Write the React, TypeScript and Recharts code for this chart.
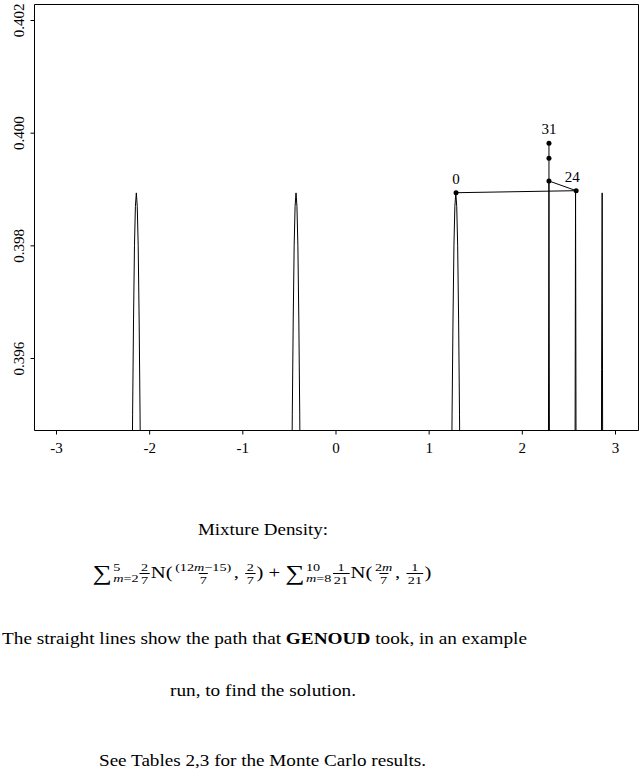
import React from 'react';
import { LineChart, Line, XAxis, YAxis, ReferenceArea, LabelList } from 'recharts';

// density curve (only the tops of the peaks are inside the window)
const curveX = [
  -3.0,
  -2.203, -2.193, -2.183, -2.173, -2.163, -2.153, -2.143, -2.133, -2.123, -2.113, -2.103, -2.093, -2.083,
  -1.29,
  -0.489, -0.479, -0.469, -0.459, -0.449, -0.439, -0.429, -0.419, -0.409, -0.399, -0.389, -0.379, -0.369,
  0.43,
  1.226, 1.236, 1.246, 1.256, 1.266, 1.276, 1.286, 1.296, 1.306, 1.316, 1.326, 1.336, 1.346,
  1.93,
  2.2757, 2.2857, 2.2957,
  2.43,
  2.5614, 2.5714, 2.5814,
  2.71,
  2.841, 2.851, 2.857, 2.867,
  3.0,
];
const curveY = [
  0.0,
  0.3902, 0.3928, 0.395, 0.3967, 0.398, 0.3987, 0.39894, 0.3987, 0.398, 0.3967, 0.395, 0.3928, 0.3902,
  0.0,
  0.3902, 0.3928, 0.395, 0.3967, 0.398, 0.3987, 0.39894, 0.3987, 0.398, 0.3967, 0.395, 0.3928, 0.3902,
  0.0,
  0.3902, 0.3928, 0.395, 0.3967, 0.398, 0.3987, 0.39894, 0.3987, 0.398, 0.3967, 0.395, 0.3928, 0.3902,
  0.0,
  0.3902, 0.39915, 0.3902,
  0.0,
  0.3902, 0.399, 0.3902,
  0.0,
  0.388, 0.3958, 0.39894, 0.3902,
  0.0,
];

// path GENOUD took
const pathX = [1.2886, 2.578, 2.286, 2.286, 2.286];
const pathY = [0.398943, 0.398979, 0.399151, 0.399554, 0.399821];
const pathLabels = ['0', '24', '', '', '31'];

const xTicks = [-3, -2, -1, 0, 1, 2, 3];
const yTicks = [0.396, 0.398, 0.4, 0.402];
const xDomain = [-3.236, 3.247];
const yDomain = [0.394722, 0.402284];

const curve = curveX.map((x, i) => ({ x, y: curveY[i] }));
const path = pathX.map((x, i) => ({ x, y: pathY[i], label: pathLabels[i] }));

const FONT = '"Liberation Serif", "DejaVu Serif", serif';

const YTick = (props: any) => {
  const { y, payload } = props;
  return (
    <text
      transform={`translate(19,${y}) rotate(-90)`}
      textAnchor="middle"
      dominantBaseline="central"
      fontFamily={FONT}
      fontSize={15}
      fill="#000"
    >
      {Number(payload.value).toFixed(3)}
    </text>
  );
};

const PointLabel = (props: any) => {
  const { x, y, value } = props;
  if (!value) return null;
  const dx = value === '24' ? -4 : 0;
  return (
    <text x={x + dx} y={y - 9} textAnchor="middle" fontFamily={FONT} fontSize={15} fill="#000">
      {value}
    </text>
  );
};

const Frac = ({ n, d }: { n: React.ReactNode; d: React.ReactNode }) => (
  <span style={{ display: 'inline-flex', flexDirection: 'column', alignItems: 'center', fontSize: 11, lineHeight: '10px', margin: '0 1px' }}>
    <span style={{ padding: '0 1px 1px' }}>{n}</span>
    <span style={{ borderTop: '1px solid #000', padding: '1px 1px 0' }}>{d}</span>
  </span>
);

const Sum = ({ top, bottom }: { top: string; bottom: React.ReactNode }) => (
  <span style={{ display: 'inline-flex', alignItems: 'center' }}>
    <span style={{ fontSize: 21, lineHeight: '21px' }}>∑</span>
    <span style={{ display: 'inline-flex', flexDirection: 'column', fontSize: 11, lineHeight: '11px', marginLeft: 1 }}>
      <span>{top}</span>
      <span>{bottom}</span>
    </span>
  </span>
);

const M = () => <i>m</i>;

export default function App() {
  return (
    <div style={{ position: 'absolute', left: 0, top: 0, width: 639, height: 770, background: '#fff', fontFamily: FONT }}>
      <LineChart width={639} height={470} margin={{ top: 4.5, right: 0.5, left: 0.5, bottom: 0 }}>
        <XAxis
          type="number"
          dataKey="x"
          domain={xDomain}
          ticks={xTicks}
          interval={0}
          allowDataOverflow
          axisLine={false}
          tickLine={{ stroke: '#000' }}
          tickSize={4}
          tickMargin={8}
          height={39.5}
          tick={{ fill: '#000', fontSize: 15, fontFamily: FONT }}
        />
        <YAxis
          type="number"
          dataKey="y"
          domain={yDomain}
          ticks={yTicks}
          interval={0}
          allowDataOverflow
          axisLine={false}
          tickLine={{ stroke: '#000' }}
          tickSize={4}
          width={34}
          tick={<YTick />}
        />
        <ReferenceArea
          x1={xDomain[0]}
          x2={xDomain[1]}
          y1={yDomain[0]}
          y2={yDomain[1]}
          fill="none"
          fillOpacity={0}
          stroke="#000"
          strokeOpacity={1}
          ifOverflow="visible"
        />
        <Line data={curve} dataKey="y" type="linear" dot={false} stroke="#000" strokeWidth={1} isAnimationActive={false} />
        <Line
          data={path}
          dataKey="y"
          type="linear"
          stroke="#000"
          strokeWidth={1}
          dot={{ r: 2.5, fill: '#000', stroke: '#000', strokeWidth: 0 }}
          isAnimationActive={false}
        >
          <LabelList dataKey="label" content={<PointLabel />} />
        </Line>
      </LineChart>

      <svg width={639} height={770} style={{ position: 'absolute', left: 0, top: 0, pointerEvents: 'none' }}>
        <g fontFamily={FONT} fontSize={16} fill="#000" textAnchor="middle">
          <text x={263} y={535} textLength={130} lengthAdjust="spacingAndGlyphs">Mixture Density:</text>
          <text x={264.5} y={644} textLength={525} lengthAdjust="spacingAndGlyphs">
            The straight lines show the path that <tspan fontWeight="bold">GENOUD</tspan> took, in an example
          </text>
          <text x={263} y={696} textLength={186} lengthAdjust="spacingAndGlyphs">run, to find the solution.</text>
          <text x={262.5} y={766} textLength={327} lengthAdjust="spacingAndGlyphs">See Tables 2,3 for the Monte Carlo results.</text>
        </g>
      </svg>

      <div
        style={{
          position: 'absolute',
          left: 0,
          top: 556,
          width: 524,
          height: 34,
          display: 'flex',
          alignItems: 'center',
          justifyContent: 'center',
          fontSize: 16,
          whiteSpace: 'nowrap',
          transform: 'scaleX(1.29)',
          transformOrigin: '262px 50%',
        }}
      >
        <Sum top="5" bottom={<span><M />=2</span>} />
        <Frac n="2" d="7" />
        <span>N(</span>
        <Frac n={<span>(12<M />−15)</span>} d="7" />
        <span>,&nbsp;</span>
        <Frac n="2" d="7" />
        <span>)&nbsp;+&nbsp;</span>
        <Sum top="10" bottom={<span><M />=8</span>} />
        <Frac n="1" d="21" />
        <span>N(</span>
        <Frac n={<span>2<M /></span>} d="7" />
        <span>,&nbsp;</span>
        <Frac n="1" d="21" />
        <span>)</span>
      </div>
    </div>
  );
}
